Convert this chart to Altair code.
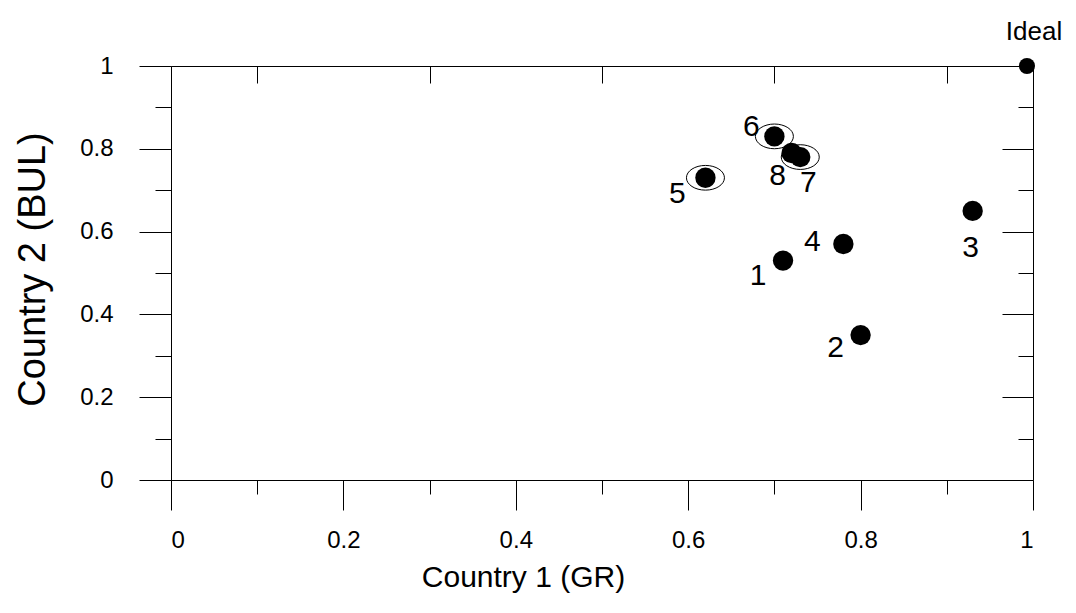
import altair as alt
import pandas as pd

# ---- data ----
labels = ["1", "2", "3", "4", "5", "6", "7", "8"]
gr = [0.71, 0.80, 0.93, 0.78, 0.62, 0.70, 0.73, 0.72]
bul = [0.53, 0.35, 0.65, 0.57, 0.73, 0.83, 0.78, 0.79]
ringed = ["5", "6", "7"]
ideal_name = ["Ideal"]
ideal_gr = [0.993]
ideal_bul = [1.0]
major_ticks = [0, 0.2, 0.4, 0.6, 0.8, 1]
minor_ticks = [0.1, 0.3, 0.5, 0.7, 0.9]
inner_major = [0.2, 0.4, 0.6, 0.8]

# label placement (pixel offsets from each point) - style only
label_offsets = {
    "1": (-25, 15), "2": (-25, 13), "3": (-2, 37), "4": (-31, -2),
    "5": (-28, 16), "6": (-23, -9), "7": (8, 26), "8": (-14, 23),
    "Ideal": (7, -34),
}

FONT = "Liberation Sans"

pts = pd.DataFrame({"label": labels, "gr": gr, "bul": bul})
ideal = pd.DataFrame({"label": ideal_name, "gr": ideal_gr, "bul": ideal_bul})

sc = alt.Scale(domain=[0, 1], nice=False, zero=False)


def ax(**kw):
    base = dict(grid=False, tickColor="black", domainColor="black",
                labelColor="black", titleColor="black", tickWidth=1,
                domainWidth=1, labelFont=FONT, titleFont=FONT,
                titleFontWeight="normal")
    base.update(kw)
    return alt.Axis(**base)


x_major = ax(orient="bottom", values=major_ticks, format="~g", tickSize=30,
             labelFontSize=24, labelPadding=18, title="Country 1 (GR)",
             titleFontSize=30, titleX=352, titleY=97, titleBaseline="middle",
             titleAlign="center")
y_major = ax(orient="left", values=major_ticks, format="~g", tickSize=32,
             labelFontSize=24, labelPadding=26, title="Country 2 (BUL)",
             titleFontSize=38, titleX=-138, titleY=203, titleBaseline="middle",
             titleAngle=270, titleAlign="center")
x_minor = ax(orient="bottom", values=minor_ticks, tickSize=14, labels=False,
             domain=False, title=None)
y_minor = ax(orient="left", values=minor_ticks, tickSize=16, labels=False,
             domain=False, title=None)
x_top = ax(orient="top", values=minor_ticks, tickSize=17, offset=-17,
           labels=False, domain=False, title=None)
y_right_major = ax(orient="right", values=inner_major, tickSize=31, offset=-31,
                   labels=False, domain=False, title=None)
y_right_minor = ax(orient="right", values=minor_ticks, tickSize=15, offset=-15,
                   labels=False, domain=False, title=None)

ellipse_path = "M -1 0 A 1 0.65 0 1 0 1 0 A 1 0.65 0 1 0 -1 0 Z"

ellipses = alt.Chart(pts).transform_filter(
    alt.FieldOneOfPredicate(field="label", oneOf=ringed)
).mark_point(shape=ellipse_path, filled=False, stroke="black",
             strokeWidth=1, size=1444, opacity=1).encode(
    x=alt.X("gr:Q", scale=sc, axis=x_major),
    y=alt.Y("bul:Q", scale=sc, axis=y_major),
)

dots = alt.Chart(pts).mark_circle(color="black", size=415, opacity=1).encode(
    x=alt.X("gr:Q", scale=sc, axis=x_minor),
    y=alt.Y("bul:Q", scale=sc, axis=y_minor),
)

ideal_dot = alt.Chart(ideal).mark_circle(color="black", size=260, opacity=1).encode(
    x=alt.X("gr:Q", scale=sc, axis=x_top),
    y=alt.Y("bul:Q", scale=sc, axis=y_right_major),
)

layers = [ellipses, dots, ideal_dot]

first = True
for name in labels:
    dx, dy = label_offsets[name]
    t = alt.Chart(pts).transform_filter(alt.datum.label == name).mark_text(
        dx=dx, dy=dy, font=FONT, fontSize=30, color="black",
        align="center", baseline="middle").encode(
        x=alt.X("gr:Q", scale=sc, axis=None),
        y=alt.Y("bul:Q", scale=sc, axis=y_right_minor if first else None),
        text="label:N",
    )
    first = False
    layers.append(t)

dx, dy = label_offsets["Ideal"]
layers.append(
    alt.Chart(ideal).mark_text(dx=dx, dy=dy, font=FONT, fontSize=26,
                               color="black", align="center",
                               baseline="middle").encode(
        x=alt.X("gr:Q", scale=sc, axis=None),
        y=alt.Y("bul:Q", scale=sc, axis=None),
        text="label:N",
    )
)

chart = alt.layer(*layers).resolve_axis(x="independent", y="independent").properties(
    width=862, height=414,
    padding={"left": 163, "top": 58, "right": 35, "bottom": 125},
    autosize=alt.AutoSizeParams(type="none"),
    background="white",
).configure_view(stroke="black", strokeWidth=1)

chart.save("out.html", embed_options={"renderer": "svg", "actions": False})
